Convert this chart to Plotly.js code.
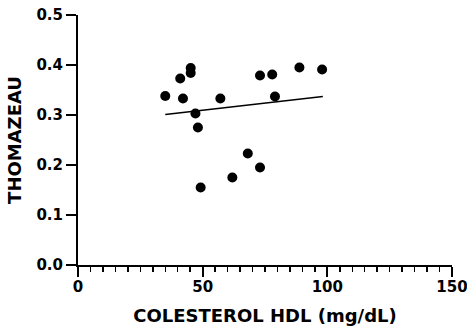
<!DOCTYPE html>
<html>
<head>
<meta charset="utf-8">
<script src="https://cdn.plot.ly/plotly-3.0.1.min.js"></script>
<style>html,body{margin:0;padding:0;background:#fff;}#chart{width:467px;height:331px;}</style>
</head>
<body>
<div id="chart"></div>
<script>
// Data
const hdl = [35.0, 41.0, 42.1, 45.2, 45.2, 47.1, 48.1, 49.2, 57.1, 61.9, 68.1, 73.0, 73.0, 77.9, 79.0, 88.8, 97.9];
const thomazeau = [0.338, 0.373, 0.333, 0.394, 0.384, 0.303, 0.275, 0.155, 0.333, 0.175, 0.223, 0.379, 0.195, 0.381, 0.337, 0.395, 0.391];
const fitX = [35.0, 98.2];
const fitY = [0.301, 0.337];
const xTicks = [0, 50, 100, 150];
const yTicks = [0.0, 0.1, 0.2, 0.3, 0.4, 0.5];

const fontFam = '"DejaVu Sans", "Liberation Sans", Arial, sans-serif';

const traces = [
  {x: hdl, y: thomazeau, type: 'scatter', mode: 'markers',
   marker: {color: '#000', size: 10}, hoverinfo: 'none', showlegend: false},
  {x: fitX, y: fitY, type: 'scatter', mode: 'lines',
   line: {color: '#000', width: 1.3}, hoverinfo: 'none', showlegend: false}
];

const layout = {
  width: 467, height: 331,
  margin: {l: 78, r: 15, t: 15, b: 66},
  paper_bgcolor: '#fff', plot_bgcolor: 'rgba(0,0,0,0)',
  font: {family: fontFam, color: '#000'},
  xaxis: {
    range: [0, 150], tickvals: xTicks, ticktext: xTicks.map(v => '<b>' + v + '</b>'),
    showgrid: false, zeroline: false, showline: true, linecolor: '#000', linewidth: 2,
    ticks: 'outside', ticklen: 10, tickwidth: 2, tickcolor: '#000',
    tickfont: {size: 15, family: fontFam}, ticklabeloverflow: 'allow', ticklabelstandoff: -3,
    minor: {dtick: 5, ticks: 'outside', ticklen: 5, tickwidth: 1.5, tickcolor: '#000', showgrid: false},
    title: {text: '<b>COLESTEROL HDL (mg/dL)</b>', font: {size: 18, family: fontFam}, standoff: 14}
  },
  yaxis: {
    range: [0, 0.5], tickvals: yTicks, ticktext: yTicks.map(v => '<b>' + v.toFixed(1) + '</b>'),
    showgrid: false, zeroline: false, showline: true, linecolor: '#000', linewidth: 2,
    ticks: 'outside', ticklen: 10, tickwidth: 2, tickcolor: '#000',
    tickfont: {size: 15, family: fontFam}, ticklabeloverflow: 'allow',
    title: {text: '<b>THOMAZEAU</b>', font: {size: 18, family: fontFam}, standoff: 10}
  }
};

Plotly.newPlot('chart', traces, layout, {displayModeBar: false, staticPlot: true});
</script>
</body>
</html>
